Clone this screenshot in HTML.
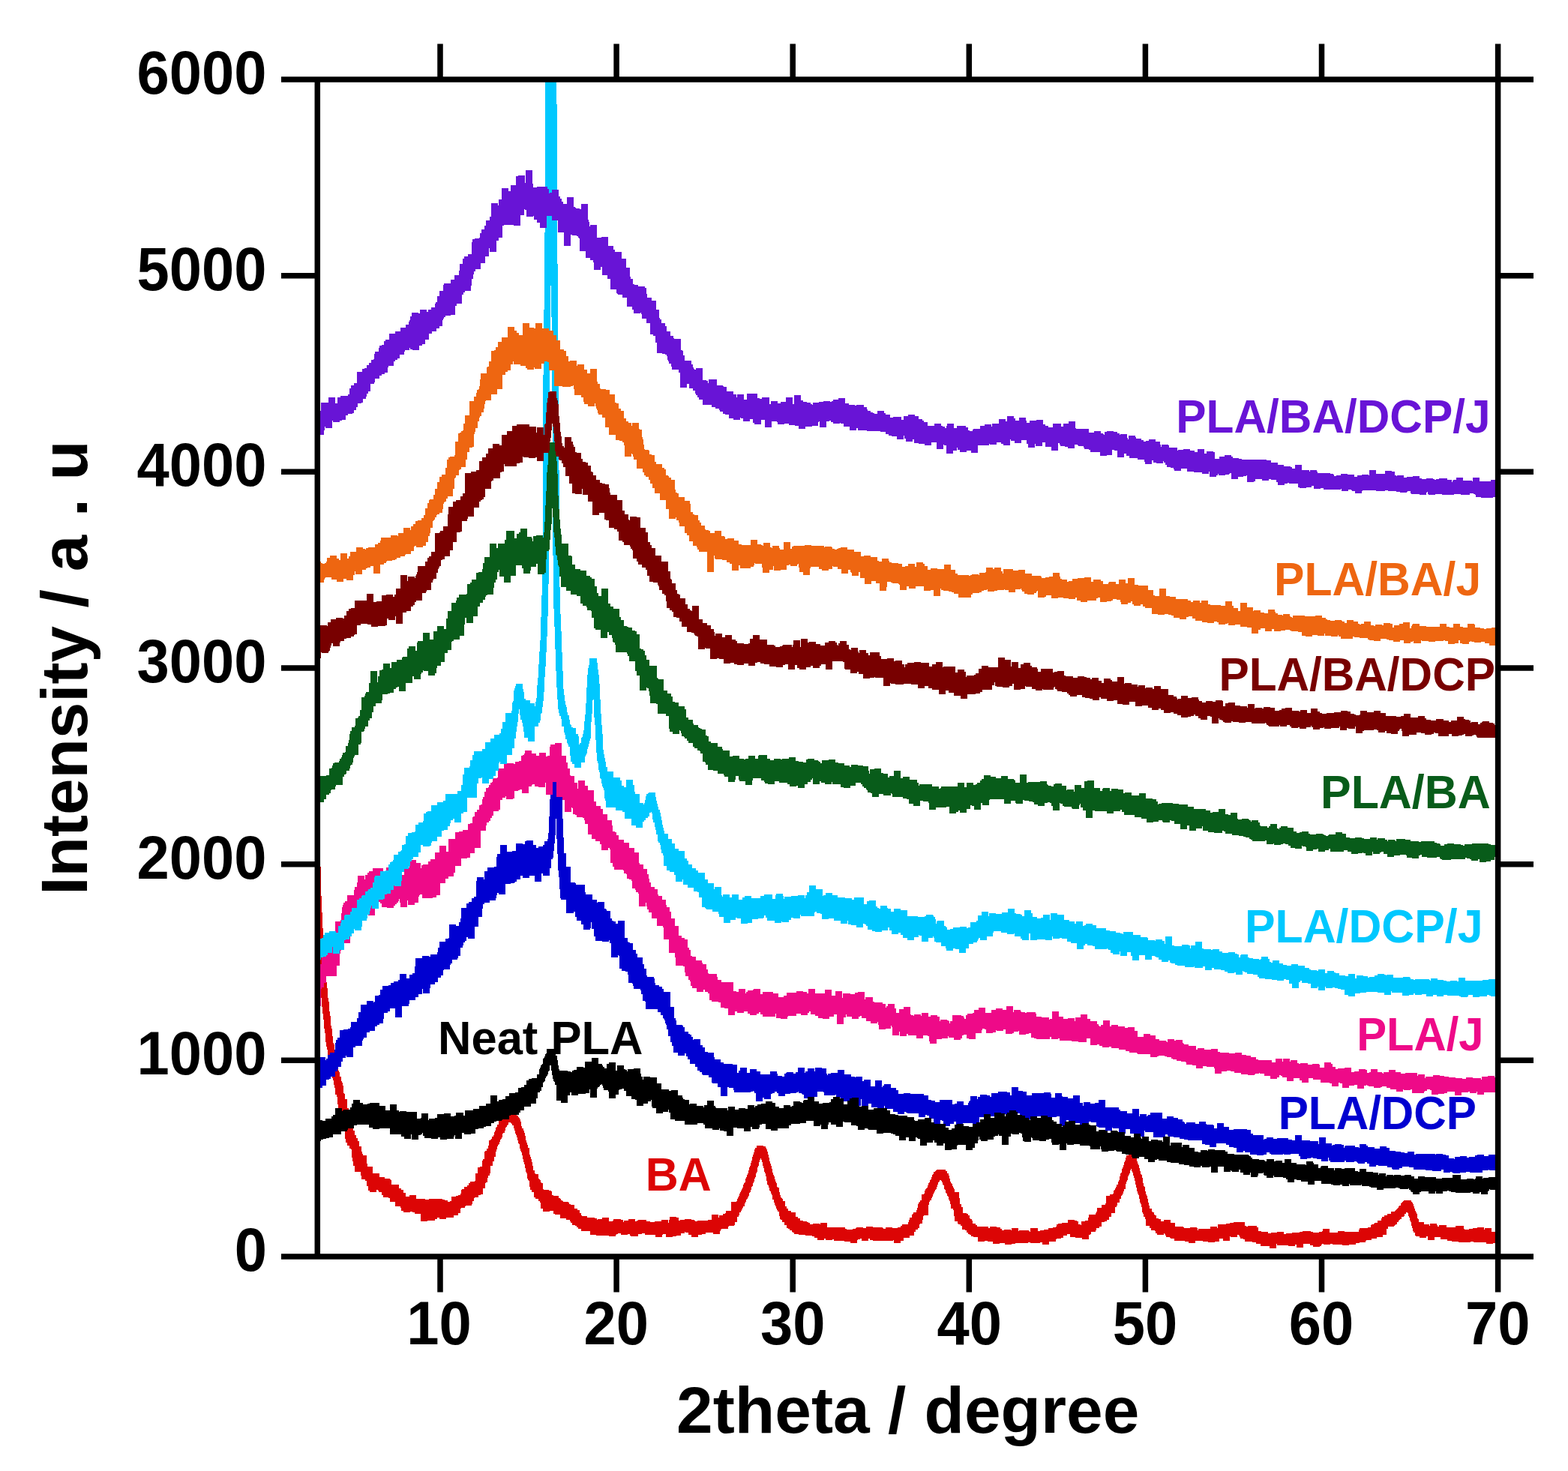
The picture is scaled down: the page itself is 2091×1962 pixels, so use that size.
<!DOCTYPE html>
<html><head><meta charset="utf-8"><title>XRD</title>
<style>html,body{margin:0;padding:0;background:#fff;width:2091px;height:1962px;overflow:hidden}svg{display:block}</style>
</head><body>
<svg width="2091" height="1962" viewBox="0 0 2091 1962">
<rect width="2091" height="1962" fill="#fff"/>
<defs><clipPath id="pc"><rect x="423" y="106" width="1574.6" height="1570"/></clipPath></defs>
<g clip-path="url(#pc)" stroke="none">
<path d="M419 1156H428V1195H429V1217H430V1238H431V1252H432V1271H433V1283H434V1296H435V1310H436V1318H437V1331H438V1336H439V1349H440V1355H441V1368H442V1372H443V1382H444V1391H445V1393H446V1401H447V1403H448V1409H449V1415H450V1418H451V1428H452V1430H453V1436H455V1442H456V1444H457V1448H458V1458H459V1459H460V1466H463V1478H465V1480H466V1483H467V1489H468V1493H470V1502H471V1508H473V1514H475V1518H477V1522H479V1529H482V1536H483V1539H484V1541H489V1552H490V1556H497V1565H506V1570H513V1572H520V1573H521V1574H522V1580H532V1585H535V1587H538V1591H541V1596H546V1594H555V1599H567V1600H572V1599H590V1600H593V1601H597V1603H600V1602H602V1596H608V1595H611V1594H614V1592H615V1587H616V1586H619V1583H623V1581H625V1578H627V1576H633V1575H634V1565H637V1557H640V1556H643V1548H644V1546H646V1536H647V1535H649V1532H651V1528H652V1521H654V1520H655V1519H656V1516H658V1514H659V1510H660V1508H661V1504H662V1503H663V1500H665V1494H667V1492H668V1491H669V1487H672V1484H674V1483H683V1484H686V1485H688V1487H689V1488H691V1490H692V1491H693V1493H694V1496H695V1502H696V1505H698V1508H699V1511H700V1515H701V1521H702V1524H703V1527H704V1531H706V1540H707V1543H708V1546H709V1550H710V1555H711V1561H713V1565H714V1566H718V1572H719V1573H720V1574H721V1577H722V1578H724V1586H725V1587H732V1588H735V1589H736V1594H738V1595H745V1598H747V1599H748V1601H750V1602H751V1603H758V1604H759V1606H761V1607H766V1612H770V1614H773V1618H775V1621H776V1622H783V1624H793V1625H796V1627H797V1626H803V1624H812V1629H817V1628H818V1626H828V1627H831V1630H832V1628H838V1626H847V1629H849V1628H851V1627H862V1629H867V1630H873V1629H882V1627H891V1631H892V1627H893V1623H902V1624H905V1628H907V1627H913V1626H922V1627H926V1628H927V1629H930V1628H944V1627H949V1620H958V1624H959V1621H964V1619H967V1618H968V1615H975V1603H982V1602H983V1599H984V1597H985V1595H986V1592H987V1590H988V1588H989V1586H990V1584H991V1580H992V1578H993V1577H994V1572H995V1570H996V1567H997V1565H998V1561H999V1557H1000V1555H1001V1551H1002V1548H1003V1543H1004V1540H1005V1537H1006V1533H1007V1531H1009V1528H1018V1529H1021V1531H1022V1533H1023V1536H1024V1540H1025V1544H1026V1549H1027V1552H1028V1555H1029V1559H1030V1564H1031V1567H1032V1569H1033V1573H1034V1576H1035V1578H1036V1583H1037V1584H1039V1590H1040V1594H1041V1597H1042V1598H1043V1599H1044V1602H1047V1609H1049V1612H1051V1615H1055V1617H1061V1623H1064V1625H1067V1628H1071V1629H1076V1630H1078V1631H1080V1633H1084V1632H1093V1633H1094V1631H1103V1637H1127V1639H1129V1640H1137V1639H1141V1638H1142V1637H1151V1638H1155V1636H1164V1637H1177V1638H1178V1639H1181V1637H1190V1638H1197V1637H1201V1635H1203V1633H1211V1630H1212V1627H1213V1624H1216V1620H1217V1619H1218V1617H1222V1614H1223V1611H1224V1606H1225V1604H1226V1603H1227V1601H1229V1593H1232V1592H1233V1588H1234V1586H1235V1585H1236V1584H1237V1581H1238V1578H1239V1577H1240V1574H1241V1573H1242V1570H1243V1567H1244V1566H1245V1563H1247V1562H1248V1561H1249V1560H1261V1562H1263V1565H1265V1568H1266V1572H1267V1576H1268V1578H1269V1579H1270V1582H1271V1584H1272V1586H1273V1590H1279V1598H1280V1606H1282V1610H1284V1618H1289V1619H1291V1621H1293V1625H1294V1626H1296V1628H1297V1632H1301V1634H1303V1636H1318V1638H1320V1636H1329V1637H1334V1639H1336V1641H1339V1640H1348V1641H1349V1638H1358V1642H1359V1641H1372V1642H1373V1643H1374V1638H1384V1642H1387V1641H1392V1640H1398V1638H1404V1637H1408V1636H1409V1633H1411V1632H1416V1631H1424V1627H1433V1628H1436V1629H1438V1633H1441V1634H1442V1629H1447V1628H1451V1624H1452V1620H1461V1618H1462V1616H1463V1611H1469V1607H1474V1605H1475V1595H1480V1593H1484V1592H1485V1588H1486V1587H1487V1585H1488V1583H1489V1580H1491V1576H1492V1574H1493V1569H1494V1565H1495V1564H1496V1559H1497V1557H1498V1554H1499V1550H1500V1548H1501V1544H1502V1541H1505V1540H1514V1543H1516V1549H1517V1552H1518V1554H1519V1558H1520V1562H1521V1566H1522V1567H1523V1571H1524V1578H1525V1582H1526V1583H1527V1589H1528V1593H1529V1595H1530V1599H1531V1604H1532V1608H1533V1612H1536V1616H1537V1617H1539V1620H1540V1621H1542V1625H1545V1626H1548V1629H1552V1627H1561V1631H1567V1636H1578V1637H1579V1638H1587V1637H1596V1638H1597V1641H1598V1639H1614V1636H1623V1638H1624V1633H1635V1632H1640V1631H1645V1630H1660V1635H1662V1636H1664V1635H1676V1637H1678V1642H1682V1643H1691V1645H1695V1644H1703V1643H1712V1646H1715V1645H1723V1644H1733V1643H1737V1642H1748V1643H1751V1644H1759V1643H1763V1642H1764V1639H1773V1644H1784V1642H1793V1643H1812V1640H1813V1638H1824V1637H1828V1634H1829V1633H1832V1632H1833V1631H1837V1628H1842V1625H1843V1623H1846V1621H1850V1619H1855V1616H1860V1615H1861V1614H1862V1613H1863V1612H1864V1611H1865V1609H1866V1608H1868V1605H1869V1604H1870V1603H1871V1602H1872V1601H1882V1603H1883V1604H1884V1606H1885V1609H1886V1612H1887V1615H1888V1617H1889V1619H1890V1625H1891V1626H1892V1630H1899V1633H1906V1635H1907V1632H1916V1634H1917V1636H1919V1634H1929V1637H1941V1635H1952V1639H1953V1640H1959V1639H1964V1638H1970V1637H1979V1640H1980V1638H1989V1643H1996V1646H1998V1658H1991V1659H1982V1657H1965V1656H1961V1657H1945V1656H1936V1655H1930V1653H1921V1650H1913V1654H1904V1649H1902V1651H1893V1649H1888V1648H1887V1644H1885V1642H1884V1638H1883V1635H1882V1630H1881V1628H1880V1624H1879V1622H1878V1618H1877V1617H1875V1619H1873V1622H1872V1623H1869V1626H1867V1627H1866V1628H1865V1630H1863V1633H1861V1634H1860V1635H1859V1636H1851V1639H1849V1647H1844V1650H1836V1652H1829V1654H1822V1655H1821V1657H1813V1658H1808V1660H1799V1661H1790V1660H1777V1659H1774V1660H1765V1659H1763V1660H1762V1662H1760V1663H1751V1661H1747V1659H1738V1664H1729V1660H1727V1662H1718V1661H1703V1659H1702V1665H1693V1662H1681V1659H1675V1657H1670V1656H1660V1653H1658V1652H1654V1650H1653V1648H1652V1647H1650V1650H1641V1649H1640V1655H1631V1652H1626V1656H1620V1657H1611V1656H1604V1655H1594V1658H1585V1656H1580V1655H1566V1652H1561V1651H1560V1650H1555V1648H1554V1646H1553V1645H1552V1647H1543V1645H1541V1642H1540V1641H1535V1638H1533V1635H1528V1626H1527V1623H1525V1619H1524V1617H1523V1610H1522V1606H1521V1604H1520V1599H1519V1594H1518V1592H1517V1589H1516V1584H1515V1580H1514V1575H1513V1571H1512V1568H1511V1564H1510V1562H1509V1559H1508V1561H1507V1565H1506V1567H1505V1569H1504V1574H1503V1576H1502V1579H1501V1586H1499V1589H1498V1592H1497V1594H1496V1595H1495V1599H1493V1604H1490V1608H1489V1610H1487V1618H1482V1623H1479V1627H1476V1629H1473V1630H1469V1636H1466V1638H1462V1641H1461V1643H1455V1646H1454V1647H1452V1653H1443V1651H1434V1650H1427V1646H1423V1648H1418V1651H1415V1652H1409V1653H1408V1656H1399V1660H1390V1657H1387V1658H1374V1657H1371V1658H1354V1659H1349V1660H1340V1658H1333V1659H1324V1656H1317V1655H1313V1656H1304V1650H1298V1649H1295V1647H1293V1646H1291V1644H1289V1641H1287V1640H1283V1635H1281V1633H1278V1632H1277V1629H1273V1622H1272V1614H1271V1612H1268V1606H1267V1602H1266V1600H1265V1596H1264V1595H1263V1592H1262V1591H1261V1587H1260V1586H1259V1581H1258V1580H1257V1577H1256V1575H1255V1574H1253V1576H1252V1577H1251V1580H1250V1583H1249V1586H1248V1587H1247V1589H1246V1591H1245V1593H1244V1596H1243V1598H1242V1601H1240V1603H1239V1607H1238V1621H1232V1622H1231V1627H1230V1632H1227V1633H1226V1638H1224V1640H1221V1643H1219V1648H1213V1651H1205V1655H1201V1658H1192V1654H1191V1655H1164V1654H1160V1652H1158V1655H1149V1652H1147V1653H1144V1654H1143V1658H1134V1656H1126V1655H1112V1653H1110V1654H1101V1652H1099V1654H1090V1651H1086V1649H1083V1648H1074V1647H1065V1646H1059V1644H1057V1643H1056V1641H1053V1639H1051V1638H1049V1634H1046V1630H1043V1627H1041V1626H1040V1622H1039V1616H1037V1614H1036V1612H1035V1609H1034V1607H1033V1604H1032V1600H1030V1594H1029V1592H1028V1589H1027V1588H1026V1584H1025V1581H1024V1580H1023V1575H1022V1569H1021V1565H1020V1563H1019V1558H1018V1555H1017V1550H1016V1547H1015V1545H1014V1547H1013V1550H1012V1555H1011V1557H1010V1563H1009V1565H1008V1570H1007V1572H1006V1576H1005V1578H1004V1582H1003V1583H1002V1587H1001V1590H1000V1591H999V1595H998V1597H997V1599H996V1600H995V1603H994V1605H993V1609H991V1611H990V1613H989V1615H988V1617H986V1621H985V1623H983V1630H980V1634H979V1635H972V1636H971V1639H962V1640H961V1642H960V1646H951V1644H941V1646H936V1647H931V1650H922V1647H918V1644H914V1643H913V1645H908V1648H902V1649H897V1650H888V1646H884V1647H883V1650H874V1647H860V1645H856V1646H851V1649H841V1648H840V1646H837V1647H828V1645H824V1646H822V1647H821V1649H812V1648H795V1647H787V1642H775V1639H771V1637H769V1635H767V1634H763V1631H761V1629H760V1627H755V1625H747V1620H740V1619H738V1615H733V1616H724V1612H721V1604H720V1602H718V1599H714V1597H712V1590H709V1587H707V1583H706V1575H705V1574H704V1572H703V1565H702V1563H701V1558H700V1553H699V1550H698V1546H697V1541H696V1537H695V1535H694V1532H693V1526H692V1525H691V1521H690V1517H689V1514H688V1512H687V1508H686V1505H685V1501H683V1499H682V1498H681V1497H678V1500H677V1501H676V1503H675V1504H674V1508H673V1511H671V1512H670V1517H669V1519H668V1520H667V1523H666V1526H665V1527H664V1529H663V1533H662V1536H661V1543H659V1549H657V1555H654V1565H653V1568H651V1571H650V1577H648V1578H647V1585H644V1593H641V1594H638V1597H633V1598H632V1602H630V1606H629V1608H621V1609H620V1611H615V1612H614V1618H611V1621H605V1624H595V1626H586V1624H583V1626H580V1628H570V1629H561V1619H553V1617H550V1616H547V1617H538V1615H535V1611H534V1609H527V1603H520V1598H518V1597H511V1594H509V1590H505V1588H504V1587H502V1590H493V1588H491V1582H489V1575H487V1573H482V1568H481V1563H473V1555H471V1549H470V1544H469V1533H468V1532H466V1528H463V1524H461V1519H460V1509H458V1504H457V1496H454V1491H453V1481H451V1473H450V1463H449V1460H447V1451H446V1447H445V1441H444V1438H443V1435H442V1428H441V1418H440V1416H439V1414H438V1407H437V1400H436V1396H435V1390H434V1378H433V1372H432V1360H431V1352H430V1343H429V1331H428V1326H427V1314H426V1298H425V1288H424V1277H423V1258H422V1239H421V1216H420V1195H419Z" fill="#dc0505"/>
<path d="M419 1430H421V1429H422V1428H423V1426H425V1410H434V1414H435V1412H437V1407H440V1404H446V1400H447V1391H448V1387H450V1384H453V1374H458V1373H464V1372H467V1370H468V1363H476V1358H478V1350H481V1340H489V1335H498V1337H499V1336H500V1328H505V1327H507V1320H510V1315H518V1314H521V1311H525V1309H531V1307H533V1299H542V1305H546V1300H550V1298H553V1289H554V1278H563V1275H572V1276H574V1273H583V1270H584V1264H586V1256H594V1252H598V1251H599V1233H608V1235H612V1230H614V1225H615V1211H622V1205H625V1203H629V1198H632V1196H635V1175H636V1170H645V1173H646V1162H650V1157H659V1156H662V1143H663V1139H667V1127H676V1136H683V1135H688V1125H697V1126H700V1122H702V1121H711V1127H715V1131H718V1129H724V1127H726V1122H730V1119H731V1111H732V1089H733V1066H734V1036H735V1010H736V1007H737V999H747V1003H748V1007H749V1062H750V1092H751V1117H752V1138H755V1156H761V1177H767V1178H768V1180H780V1190H781V1193H790V1200H796V1204H797V1203H806V1212H808V1213H809V1215H814V1225H816V1228H818V1229H821V1232H824V1228H833V1251H837V1256H838V1257H840V1258H844V1267H848V1272H850V1277H857V1286H859V1292H862V1301H863V1303H872V1305H873V1311H874V1314H879V1316H883V1319H885V1323H894V1343H899V1358H901V1361H902V1367H910V1368H911V1370H913V1376H918V1379H920V1380H922V1383H924V1387H925V1386H934V1394H937V1397H940V1403H944V1404H952V1410H953V1413H961V1417H965V1419H977V1420H983V1431H985V1428H987V1424H996V1431H1000V1426H1009V1429H1014V1433H1027V1429H1036V1432H1037V1435H1043V1436H1046V1432H1048V1431H1049V1430H1058V1432H1061V1430H1064V1424H1073V1431H1074V1429H1077V1425H1086V1429H1087V1424H1096V1425H1102V1432H1103V1434H1104V1432H1108V1431H1117V1427H1126V1433H1135V1436H1140V1437H1141V1436H1150V1442H1152V1440H1161V1449H1167V1441H1176V1450H1177V1448H1179V1446H1188V1451H1195V1454H1198V1459H1205V1458H1214V1459H1232V1461H1238V1467H1242V1468H1247V1470H1253V1467H1270V1473H1273V1472H1276V1469H1285V1474H1291V1471H1292V1469H1293V1468H1294V1462H1303V1466H1304V1463H1307V1460H1316V1461H1320V1463H1322V1458H1331V1456H1343V1457H1347V1461H1349V1450H1358V1455H1364V1456H1369V1461H1376V1458H1392V1457H1401V1459H1402V1464H1407V1458H1416V1462H1417V1463H1424V1465H1431V1461H1440V1471H1444V1475H1445V1470H1454V1472H1460V1471H1465V1467H1474V1477H1492V1480H1494V1482H1503V1485H1510V1479H1519V1489H1520V1486H1529V1489H1530V1488H1531V1487H1534V1484H1550V1492H1556V1489H1565V1491H1571V1493H1577V1496H1579V1497H1580V1499H1582V1497H1594V1499H1599V1496H1608V1499H1609V1500H1618V1501H1619V1505H1623V1498H1632V1503H1639V1507H1645V1506H1663V1507H1668V1512H1671V1514H1685V1520H1686V1519H1689V1517H1698V1519H1703V1518H1718V1520H1723V1521H1727V1514H1736V1521H1747V1522H1758V1526H1759V1517H1768V1525H1776V1528H1777V1527H1780V1526H1789V1527H1792V1531H1793V1529H1794V1528H1807V1530H1812V1531H1813V1526H1822V1528H1824V1530H1833V1532H1840V1529H1849V1531H1853V1535H1861V1536H1868V1537H1873V1538H1877V1536H1886V1540H1888V1539H1914V1540H1915V1539H1924V1540H1928V1541H1932V1545H1939V1546H1940V1543H1947V1542H1956V1544H1959V1543H1967V1541H1970V1540H1979V1542H1985V1540H1994V1544H1997V1546H1998V1559H1995V1561H1986V1560H1985V1561H1977V1564H1960V1563H1955V1564H1947V1565H1938V1564H1936V1563H1934V1564H1925V1560H1922V1562H1910V1561H1901V1560H1885V1557H1879V1556H1870V1558H1866V1560H1857V1559H1856V1557H1850V1555H1838V1554H1835V1556H1826V1552H1823V1550H1820V1552H1811V1551H1810V1550H1809V1549H1806V1550H1795V1548H1793V1550H1774V1548H1772V1544H1771V1549H1762V1546H1756V1545H1751V1544H1748V1545H1743V1546H1734V1542H1732V1539H1721V1540H1712V1539H1711V1540H1695V1539H1693V1537H1689V1540H1685V1541H1676V1540H1667V1537H1660V1535H1658V1537H1649V1531H1645V1530H1639V1527H1635V1525H1622V1530H1613V1527H1607V1526H1603V1521H1584V1520H1579V1519H1573V1517H1565V1516H1558V1515H1557V1513H1554V1517H1538V1510H1527V1508H1526V1516H1517V1515H1515V1512H1507V1506H1501V1512H1492V1505H1484V1504H1483V1508H1474V1504H1465V1503H1463V1502H1462V1497H1455V1496H1452V1502H1443V1501H1440V1498H1429V1495H1425V1494H1422V1502H1413V1489H1409V1490H1402V1491H1398V1494H1389V1489H1380V1490H1378V1493H1369V1494H1360V1485H1352V1490H1343V1488H1341V1486H1334V1488H1328V1489H1319V1487H1315V1490H1306V1499H1297V1498H1284V1502H1275V1496H1272V1499H1267V1502H1258V1495H1256V1494H1254V1503H1245V1492H1240V1491H1239V1488H1236V1487H1234V1490H1225V1485H1210V1484H1208V1483H1206V1486H1197V1483H1191V1479H1181V1478H1180V1475H1179V1478H1170V1477H1162V1472H1158V1476H1149V1466H1148V1475H1139V1470H1131V1469H1125V1465H1121V1464H1115V1460H1114V1461H1099V1457H1098V1456H1090V1463H1081V1465H1072V1460H1070V1459H1069V1458H1065V1456H1064V1457H1062V1458H1054V1459H1047V1462H1038V1458H1036V1456H1033V1458H1030V1459H1028V1466H1019V1464H1017V1469H1008V1458H1006V1456H1005V1455H1004V1456H1001V1457H979V1454H978V1451H972V1450H970V1462H961V1450H957V1445H950V1444H949V1437H945V1434H937V1433H936V1430H933V1428H930V1423H927V1419H920V1413H917V1409H915V1405H913V1408H904V1404H898V1395H896V1390H894V1382H891V1373H889V1367H888V1365H887V1361H886V1359H885V1358H884V1354H881V1350H877V1346H861V1336H860V1335H857V1326H855V1321H854V1319H845V1315H844V1312H843V1311H838V1300H837V1296H834V1295H829V1292H826V1275H825V1274H824V1277H815V1258H813V1254H812V1256H803V1255H794V1249H792V1239H789V1230H788V1238H787V1240H778V1233H775V1228H769V1223H767V1216H765V1218H755V1200H748V1198H747V1186H746V1170H745V1161H744V1139H743V1119H742V1092H741V1114H740V1125H739V1135H738V1144H737V1146H735V1158H733V1168H724V1165H722V1176H713V1168H706V1171H697V1168H694V1173H689V1176H687V1177H686V1178H681V1179H674V1193H665V1191H663V1194H662V1198H661V1201H653V1204H646V1206H644V1212H643V1223H638V1236H633V1252H624V1250H622V1255H620V1257H618V1261H617V1264H614V1275H611V1278H610V1280H603V1285H601V1287H600V1293H592V1294H591V1301H588V1304H584V1310H580V1313H574V1318H573V1325H564V1319H563V1326H558V1330H554V1334H546V1339H545V1342H536V1357H527V1345H520V1349H517V1351H512V1359H511V1365H506V1367H503V1369H500V1375H493V1377H489V1384H485V1386H484V1388H483V1395H474V1397H471V1410H462V1408H461V1411H457V1416H455V1423H451V1426H450V1429H447V1436H441V1439H439V1440H435V1448H430V1451H421V1448H420V1443H419Z" fill="#0000d0"/>
<path d="M419 1494H430V1495H434V1492H442V1489H444V1487H447V1478H456V1482H457V1481H458V1480H467V1477H469V1472H471V1467H480V1471H484V1473H490V1472H493V1471H506V1475H514V1481H520V1473H529V1481H532V1483H533V1482H542V1483H556V1492H561V1491H562V1485H571V1494H572V1492H580V1491H583V1486H592V1485H601V1489H606V1488H608V1484H618V1488H620V1481H631V1479H639V1475H648V1472H654V1461H663V1469H665V1467H670V1466H674V1462H679V1458H687V1457H691V1451H695V1450H699V1447H702V1441H705V1439H709V1438H716V1433H719V1426H720V1424H721V1421H722V1420H723V1419H724V1412H725V1411H726V1409H727V1406H728V1405H729V1399H739V1401H740V1402H741V1408H743V1414H744V1421H745V1426H746V1428H757V1429H761V1430H763V1428H765V1427H769V1423H778V1424H780V1416H789V1411H798V1419H803V1421H804V1423H806V1425H809V1419H812V1417H821V1428H823V1421H832V1426H834V1427H836V1429H837V1426H845V1425H854V1432H855V1436H857V1440H858V1436H867V1437H876V1445H882V1453H892V1455H895V1454H904V1461H910V1464H911V1466H913V1467H919V1473H920V1472H929V1475H938V1477H939V1474H943V1468H952V1475H954V1477H955V1478H970V1481H971V1476H980V1480H985V1478H994V1479H997V1474H1006V1477H1007V1475H1010V1473H1015V1472H1021V1469H1030V1471H1034V1476H1039V1478H1045V1474H1054V1476H1056V1475H1058V1469H1067V1470H1069V1471H1071V1468H1072V1467H1077V1463H1086V1469H1092V1472H1097V1471H1106V1470H1108V1466H1111V1463H1120V1465H1125V1473H1130V1468H1133V1465H1136V1464H1145V1475H1146V1476H1149V1475H1158V1480H1165V1478H1183V1481H1187V1486H1194V1487H1198V1488H1210V1490H1219V1494H1220V1495H1224V1493H1233V1491H1242V1497H1246V1499H1261V1504H1265V1507H1269V1505H1273V1500H1276V1499H1285V1502H1292V1503H1297V1499H1302V1497H1307V1493H1312V1486H1321V1491H1326V1484H1335V1485H1340V1489H1341V1486H1343V1484H1346V1481H1355V1483H1357V1487H1363V1488H1367V1491H1372V1493H1373V1494H1374V1489H1383V1491H1388V1488H1397V1490H1403V1494H1405V1496H1409V1499H1416V1503H1417V1501H1420V1496H1425V1495H1434V1500H1443V1498H1452V1500H1454V1501H1462V1509H1465V1507H1474V1508H1477V1511H1481V1508H1490V1509H1491V1510H1500V1515H1508V1517H1512V1512H1521V1517H1522V1519H1523V1516H1532V1522H1535V1520H1544V1521H1550V1523H1551V1516H1560V1528H1561V1524H1576V1530H1577V1527H1586V1531H1593V1536H1598V1537H1601V1534H1610V1535H1611V1533H1620V1534H1634V1536H1637V1539H1646V1540H1665V1541H1666V1542H1668V1544H1670V1546H1679V1547H1686V1548H1687V1549H1689V1546H1699V1549H1701V1548H1710V1551H1713V1546H1722V1551H1729V1553H1741V1554H1742V1549H1751V1551H1752V1553H1758V1558H1761V1556H1762V1555H1771V1558H1779V1561H1780V1558H1789V1559H1793V1558H1807V1562H1811V1563H1813V1559H1822V1563H1831V1564H1838V1567H1839V1565H1848V1569H1849V1567H1858V1568H1859V1567H1868V1568H1873V1567H1882V1569H1886V1572H1891V1569H1900V1570H1915V1572H1923V1571H1937V1567H1948V1573H1956V1572H1965V1573H1967V1572H1968V1569H1977V1572H1978V1571H1985V1570H1994V1571H1995V1572H1998V1581H1997V1583H1996V1587H1987V1586H1986V1588H1985V1589H1984V1593H1975V1590H1973V1592H1964V1590H1961V1591H1941V1590H1935V1589H1932V1588H1930V1589H1924V1592H1915V1589H1914V1592H1905V1589H1895V1590H1893V1593H1884V1590H1882V1589H1881V1587H1879V1585H1878V1586H1867V1585H1865V1584H1861V1585H1845V1587H1836V1584H1828V1583H1826V1582H1816V1580H1815V1581H1800V1579H1799V1582H1790V1580H1787V1581H1778V1580H1775V1579H1762V1575H1753V1580H1744V1576H1735V1574H1729V1573H1726V1577H1717V1573H1715V1571H1711V1570H1699V1568H1698V1571H1689V1568H1686V1567H1685V1564H1684V1565H1678V1568H1677V1570H1668V1564H1667V1567H1658V1564H1654V1560H1652V1563H1643V1562H1642V1561H1641V1563H1632V1556H1624V1564H1615V1556H1613V1557H1603V1555H1601V1557H1592V1556H1586V1554H1579V1553H1572V1551H1561V1550H1556V1548H1545V1546H1543V1547H1540V1550H1531V1546H1526V1543H1519V1545H1510V1543H1509V1540H1501V1539H1496V1536H1489V1535H1488V1534H1486V1535H1478V1536H1469V1533H1468V1529H1467V1533H1454V1529H1453V1528H1440V1526H1432V1527H1423V1525H1422V1534H1413V1526H1412V1527H1403V1524H1402V1519H1399V1520H1395V1522H1386V1521H1377V1518H1376V1517H1375V1523H1366V1522H1364V1517H1363V1512H1361V1511H1359V1513H1350V1512H1348V1516H1345V1527H1336V1515H1332V1513H1331V1515H1327V1516H1325V1520H1317V1522H1308V1520H1306V1516H1305V1521H1304V1525H1300V1531H1297V1534H1288V1527H1277V1528H1276V1533H1269V1534H1260V1525H1258V1528H1249V1524H1246V1521H1244V1524H1236V1528H1227V1519H1224V1518H1223V1517H1221V1522H1212V1517H1208V1521H1199V1515H1194V1513H1191V1512H1188V1511H1178V1512H1169V1507H1158V1506H1157V1505H1153V1507H1144V1502H1142V1501H1135V1497H1126V1496H1124V1503H1115V1500H1108V1497H1105V1500H1104V1506H1095V1500H1094V1502H1085V1495H1075V1498H1067V1499H1055V1501H1052V1505H1037V1508H1028V1506H1021V1499H1016V1500H1013V1504H1012V1506H1003V1503H1001V1509H992V1505H983V1504H978V1515H969V1509H965V1508H960V1505H959V1507H950V1505H940V1500H938V1498H930V1500H913V1495H900V1493H894V1484H892V1480H891V1483H884V1485H875V1478H870V1476H869V1467H868V1469H864V1472H858V1475H849V1467H847V1466H842V1462H835V1455H832V1452H829V1453H826V1454H825V1460H821V1465H812V1456H811V1454H805V1451H804V1448H803V1446H802V1447H800V1449H799V1450H797V1452H796V1464H787V1453H786V1458H781V1459H771V1461H762V1457H760V1461H757V1471H748V1468H742V1447H740V1443H739V1442H738V1439H737V1434H736V1428H735V1421H733V1428H732V1429H731V1433H730V1435H729V1436H728V1438H727V1442H726V1443H725V1444H724V1450H722V1455H720V1457H717V1465H715V1472H708V1476H699V1481H694V1484H692V1487H681V1488H679V1493H670V1494H669V1495H662V1496H659V1498H655V1502H648V1503H645V1505H638V1506H634V1512H628V1513H619V1511H616V1519H607V1514H606V1516H605V1519H596V1520H587V1517H584V1519H575V1518H566V1515H564V1511H563V1513H561V1514H558V1520H549V1513H548V1519H539V1516H535V1513H520V1505H506V1506H497V1504H492V1500H476V1501H472V1505H464V1507H463V1509H455V1513H444V1517H439V1518H435V1519H431V1520H428V1522H419Z" fill="#000000"/>
<path d="M419 1307H421V1294H426V1289H427V1286H429V1273H433V1270H441V1250H446V1247H447V1229H454V1227H455V1218H456V1210H457V1207H458V1204H460V1202H463V1194H472V1187H473V1183H476V1177H477V1168H486V1173H487V1167H490V1164H492V1162H497V1158H511V1171H515V1157H524V1158H526V1171H527V1167H539V1157H546V1147H555V1151H561V1158H562V1154H564V1153H571V1149H574V1146H580V1137H586V1128H595V1136H598V1119H607V1110H612V1109H617V1107H624V1099H627V1098H630V1090H631V1089H633V1083H636V1080H639V1074H641V1073H643V1066H644V1063H646V1056H648V1051H651V1050H652V1047H654V1044H656V1043H657V1038H663V1037H664V1025H672V1018H685V1019H687V1016H692V1015H695V1008H697V1007H699V1005H700V1001H709V1005H715V1008H719V1004H728V1009H730V1008H733V996H734V993H740V991H749V1008H755V1017H757V1025H760V1034H761V1035H766V1044H770V1052H771V1041H780V1048H784V1054H792V1069H795V1075H801V1079H804V1086H810V1094H816V1101H817V1109H820V1110H822V1114H825V1120H832V1124H839V1131H846V1137H852V1151H853V1153H858V1159H863V1166H865V1172H866V1177H868V1183H873V1186H877V1193H878V1195H883V1200H888V1207H889V1210H893V1216H895V1225H900V1235H905V1248H909V1251H913V1253H917V1264H919V1267H921V1275H923V1276H928V1281H936V1284H937V1286H942V1293H944V1298H945V1299H956V1303H957V1307H962V1310H978V1322H982V1323H985V1319H994V1325H995V1323H997V1321H1004V1320H1005V1319H1014V1326H1017V1323H1031V1325H1038V1330H1045V1328H1049V1324H1062V1322H1071V1323H1076V1325H1078V1319H1087V1325H1100V1320H1109V1328H1114V1322H1123V1331H1124V1325H1134V1326H1140V1324H1144V1323H1153V1333H1154V1330H1164V1336H1166V1337H1177V1339H1181V1344H1182V1342H1184V1339H1193V1345H1195V1351H1199V1346H1205V1343H1214V1353H1215V1354H1218V1355H1219V1353H1228V1355H1229V1351H1238V1356H1241V1354H1250V1356H1253V1362H1254V1360H1263V1361H1265V1362H1266V1365H1267V1362H1270V1354H1282V1355H1285V1357H1286V1359H1288V1354H1290V1352H1297V1351H1299V1347H1305V1344H1314V1351H1322V1347H1328V1345H1337V1347H1342V1342H1351V1350H1352V1347H1361V1349H1362V1350H1367V1351H1369V1350H1381V1352H1382V1356H1389V1357H1399V1360H1400V1359H1403V1349H1412V1356H1418V1359H1424V1358H1433V1362H1434V1357H1441V1353H1450V1359H1454V1362H1463V1366H1465V1368H1466V1369H1468V1367H1471V1361H1480V1369H1482V1367H1491V1369H1500V1371H1504V1370H1513V1375H1517V1383H1525V1379H1534V1381H1541V1386H1546V1388H1555V1389H1556V1390H1557V1386H1566V1388H1568V1387H1577V1391H1578V1392H1579V1393H1585V1395H1595V1400H1597V1398H1606V1400H1615V1399H1624V1403H1627V1404H1639V1405H1647V1404H1656V1407H1662V1408H1668V1410H1675V1413H1678V1414H1696V1417H1701V1412H1710V1416H1711V1412H1720V1416H1721V1414H1730V1418H1732V1419H1734V1418H1744V1420H1750V1419H1759V1420H1760V1424H1766V1417H1775V1419H1777V1423H1781V1426H1784V1425H1793V1424H1802V1430H1806V1429H1812V1426H1821V1427H1823V1431H1826V1430H1828V1426H1837V1430H1843V1431H1844V1432H1845V1430H1852V1427H1861V1430H1868V1432H1874V1431H1890V1435H1891V1433H1900V1438H1901V1436H1911V1434H1920V1435H1926V1436H1932V1437H1941V1438H1950V1439H1955V1437H1964V1438H1975V1440H1976V1436H1984V1435H1993V1437H1994V1442H1995V1443H1997V1444H1998V1455H1994V1457H1979V1460H1970V1456H1969V1458H1960V1456H1958V1457H1949V1461H1940V1456H1930V1458H1926V1459H1918V1460H1909V1454H1907V1453H1903V1455H1900V1456H1899V1458H1883V1453H1881V1454H1872V1453H1871V1456H1862V1453H1854V1451H1849V1449H1843V1450H1841V1451H1832V1449H1825V1448H1823V1447H1822V1448H1819V1452H1810V1447H1806V1448H1799V1451H1790V1445H1787V1444H1785V1449H1776V1445H1773V1444H1761V1440H1751V1438H1745V1444H1736V1441H1733V1438H1725V1442H1716V1437H1710V1435H1708V1434H1706V1437H1703V1439H1694V1435H1686V1432H1680V1431H1679V1432H1674V1433H1673V1434H1664V1433H1655V1431H1646V1429H1641V1428H1636V1429H1629V1432H1620V1425H1619V1423H1609V1422H1604V1425H1595V1421H1590V1420H1582V1417H1581V1416H1575V1415H1569V1413H1564V1412H1562V1410H1556V1409H1553V1408H1545V1409H1543V1410H1534V1406H1517V1405H1516V1404H1506V1402H1501V1400H1492V1398H1482V1396H1479V1397H1470V1395H1466V1393H1463V1394H1454V1385H1449V1390H1438V1389H1429V1388H1413V1385H1411V1386H1402V1383H1400V1386H1382V1385H1379V1384H1375V1378H1372V1379H1368V1380H1359V1375H1358V1376H1352V1378H1350V1379H1341V1373H1338V1375H1329V1374H1328V1377H1324V1378H1315V1373H1313V1372H1310V1374H1309V1378H1301V1386H1292V1385H1289V1380H1285V1381H1283V1385H1281V1387H1272V1384H1265V1382H1264V1385H1256V1386H1249V1392H1240V1389H1239V1382H1237V1381H1231V1385H1222V1381H1211V1379H1209V1382H1200V1376H1199V1381H1190V1370H1189V1368H1188V1372H1181V1373H1172V1367H1171V1363H1170V1365H1161V1362H1155V1358H1149V1355H1147V1356H1145V1359H1136V1356H1129V1353H1128V1357H1125V1366H1116V1353H1112V1356H1106V1359H1097V1358H1091V1355H1087V1353H1081V1349H1079V1351H1077V1354H1068V1352H1062V1355H1051V1356H1050V1359H1041V1358H1035V1352H1034V1356H1017V1353H1014V1350H1012V1352H1009V1354H1000V1352H997V1349H992V1351H983V1349H980V1354H971V1345H966V1344H961V1337H958V1336H949V1334H946V1325H944V1323H940V1320H938V1323H929V1318H923V1315H921V1309H920V1307H918V1302H914V1297H913V1289H911V1288H901V1277H900V1271H892V1253H885V1237H884V1235H876V1225H869V1217H865V1213H863V1209H862V1204H861V1209H852V1192H851V1190H848V1187H847V1185H843V1175H842V1173H839V1172H836V1166H835V1165H832V1161H831V1160H819V1156H817V1151H814V1133H813V1131H811V1134H802V1126H800V1122H794V1119H789V1113H784V1099H780V1094H779V1091H777V1090H769V1087H767V1086H764V1078H763V1077H762V1083H753V1067H750V1063H742V1043H737V1060H728V1044H727V1050H718V1049H713V1046H710V1047H709V1049H705V1058H696V1053H693V1054H691V1055H686V1065H684V1066H675V1062H674V1064H670V1067H667V1080H665V1082H658V1088H656V1091H654V1095H652V1097H649V1101H648V1108H641V1131H633V1138H627V1144H623V1145H615V1155H607V1164H605V1169H598V1172H594V1178H587V1194H582V1197H577V1198H563V1193H560V1194H559V1196H558V1204H553V1207H544V1201H543V1210H534V1204H533V1199H532V1202H531V1204H529V1206H527V1208H525V1211H516V1210H509V1205H507V1203H503V1200H500V1221H491V1208H490V1211H484V1213H483V1226H480V1229H475V1230H474V1233H471V1237H467V1258H458V1253H457V1263H455V1268H454V1272H453V1288H449V1302H435V1311H432V1317H429V1319H428V1342H419Z" fill="#ee0a88"/>
<path d="M419 1255H426V1252H429V1251H431V1247H433V1244H439V1242H448V1244H451V1235H454V1231H455V1227H459V1221H460V1220H467V1216H469V1211H476V1200H479V1198H482V1195H483V1194H487V1189H490V1188H491V1186H494V1184H497V1177H499V1170H500V1168H507V1162H514V1161H518V1153H520V1150H522V1149H524V1147H525V1140H531V1136H534V1135H535V1134H536V1127H539V1126H541V1115H544V1111H549V1110H553V1109H554V1100H558V1097H564V1095H565V1085H568V1083H570V1082H575V1074H583V1070H591V1068H594V1059H610V1055H615V1047H617V1033H619V1024H626V1022H627V1014H630V1007H632V1002H643V999H647V990H654V985H659V980H666V978H668V972H670V963H674V951H682V948H683V937H684V935H685V921H686V918H687V915H688V912H697V919H698V923H699V932H701V934H707V938H713V942H714V936H715V931H716V914H717V904H718V886H719V869H720V854H721V823H722V794H723V720H724V500H725V413H726V310H727V101H728V84H730V83H732V82H741V83H742V139H743V352H744V482H745V627H746V783H747V819H748V842H749V870H750V895H751V919H752V927H753V935H754V940H755V943H756V950H757V954H759V960H760V966H761V967H762V970H764V971H768V979H771V982H772V993H773V991H775V984H776V983H777V979H778V974H779V962H780V953H781V938H782V917H783V900H784V891H785V887H786V878H796V884H797V893H798V900H799V912H800V933H801V952H802V967H803V979H804V1000H805V1006H806V1011H807V1016H808V1023H810V1029H818V1037H827V1041H829V1048H832V1050H835V1040H844V1047H846V1056H847V1059H853V1071H858V1073H859V1071H860V1067H861V1062H862V1059H864V1058H865V1057H874V1063H875V1068H876V1072H877V1076H878V1080H880V1084H881V1089H882V1094H883V1100H884V1104H885V1108H886V1112H891V1119H896V1125H900V1132H905V1135H913V1145H916V1148H918V1153H923V1158H928V1161H931V1164H940V1173H944V1178H952V1186H953V1183H962V1194H963V1196H964V1193H973V1197H976V1193H985V1200H990V1197H993V1195H1002V1198H1014V1195H1019V1193H1030V1199H1034V1194H1035V1192H1044V1195H1045V1199H1046V1196H1055V1195H1064V1194H1073V1198H1074V1194H1076V1190H1079V1181H1088V1186H1097V1195H1098V1194H1101V1191H1110V1194H1117V1197H1127V1198H1136V1200H1139V1197H1152V1206H1156V1202H1159V1201H1168V1209H1170V1211H1172V1212H1174V1208H1183V1211H1184V1212H1188V1216H1192V1212H1201V1214H1210V1222H1224V1223H1233V1222H1235V1220H1244V1221H1245V1223H1247V1226H1248V1232H1249V1229H1250V1228H1259V1235H1261V1236H1262V1237H1263V1240H1267V1239H1271V1237H1280V1236H1289V1238H1291V1237H1294V1230H1302V1228H1304V1221H1309V1216H1318V1222H1319V1218H1328V1219H1336V1217H1344V1212H1353V1218H1355V1219H1361V1220H1363V1222H1366V1214H1375V1218H1377V1223H1383V1225H1388V1224H1391V1220H1400V1227H1401V1218H1410V1220H1419V1227H1426V1229H1433V1232H1435V1229H1444V1235H1446V1234H1448V1232H1457V1234H1462V1238H1475V1241H1480V1242H1488V1244H1494V1245H1497V1246H1498V1243H1511V1247H1521V1250H1530V1251H1531V1254H1540V1255H1541V1253H1550V1255H1553V1259H1554V1249H1563V1261H1566V1262H1576V1260H1585V1261H1587V1265H1588V1261H1594V1256H1603V1265H1605V1266H1615V1267H1617V1266H1626V1269H1630V1271H1638V1270H1647V1272H1650V1273H1652V1277H1654V1274H1655V1273H1664V1277H1666V1278H1671V1279H1679V1280H1681V1279H1682V1276H1691V1279H1693V1283H1695V1284H1697V1281H1706V1285H1711V1287H1716V1288H1722V1286H1731V1288H1740V1291H1746V1293H1748V1294H1756V1295H1758V1293H1767V1298H1770V1295H1779V1297H1781V1298H1786V1301H1794V1302H1798V1299H1807V1305H1809V1301H1818V1302H1824V1304H1826V1303H1833V1301H1837V1299H1846V1300H1848V1301H1849V1300H1858V1304H1871V1303H1880V1304H1881V1306H1885V1307H1887V1306H1906V1307H1907V1308H1908V1305H1917V1307H1925V1308H1929V1309H1934V1308H1943V1309H1945V1304H1954V1308H1977V1307H1985V1306H1994V1308H1996V1313H1998V1324H1997V1329H1988V1328H1986V1327H1983V1329H1973V1330H1964V1327H1958V1329H1957V1330H1948V1329H1946V1328H1930V1327H1925V1329H1916V1327H1911V1329H1902V1326H1896V1327H1887V1325H1885V1327H1879V1328H1870V1324H1856V1322H1855V1327H1846V1324H1837V1323H1822V1324H1814V1325H1807V1329H1798V1327H1793V1320H1788V1319H1784V1318H1780V1317H1777V1318H1768V1316H1767V1321H1758V1316H1757V1318H1748V1312H1744V1311H1736V1308H1734V1310H1732V1318H1723V1312H1719V1307H1715V1306H1712V1308H1703V1307H1696V1306H1687V1305H1679V1303H1677V1300H1671V1299H1663V1297H1660V1296H1658V1295H1657V1300H1648V1297H1646V1298H1637V1296H1633V1294H1628V1293H1619V1291H1616V1294H1607V1289H1604V1291H1593V1289H1592V1290H1580V1288H1570V1287H1567V1285H1562V1284H1560V1281H1558V1283H1549V1280H1545V1277H1542V1276H1540V1275H1536V1280H1527V1274H1519V1281H1510V1275H1508V1270H1503V1275H1494V1269H1493V1273H1484V1271H1481V1267H1478V1266H1477V1265H1476V1266H1460V1262H1457V1261H1450V1259H1447V1261H1445V1266H1436V1258H1428V1256H1423V1252H1416V1251H1413V1252H1404V1249H1403V1254H1394V1253H1383V1254H1374V1245H1372V1254H1363V1252H1361V1249H1353V1245H1352V1246H1343V1244H1335V1242H1325V1244H1324V1249H1316V1254H1307V1251H1305V1253H1304V1255H1303V1257H1298V1259H1292V1265H1288V1271H1279V1266H1274V1265H1271V1268H1262V1265H1261V1262H1255V1257H1248V1256H1246V1251H1245V1249H1244V1251H1238V1256H1229V1248H1226V1247H1225V1250H1219V1254H1210V1251H1204V1247H1201V1244H1198V1246H1189V1241H1186V1237H1184V1241H1176V1243H1167V1242H1163V1240H1157V1235H1155V1233H1153V1232H1151V1237H1142V1234H1135V1233H1131V1228H1130V1232H1121V1228H1112V1225H1105V1226H1096V1219H1094V1218H1089V1216H1087V1217H1086V1222H1068V1220H1067V1225H1058V1224H1055V1227H1052V1230H1043V1229H1042V1231H1033V1228H1023V1224H1021V1221H1019V1224H1018V1225H1011V1226H1003V1231H997V1232H988V1225H983V1224H981V1227H974V1231H965V1223H959V1219H958V1216H950V1213H942V1212H941V1211H940V1210H936V1197H932V1190H930V1189H925V1184H917V1180H911V1173H910V1176H901V1167H899V1163H893V1161H889V1155H885V1141H884V1138H882V1133H881V1127H880V1124H878V1122H877V1113H875V1107H874V1103H873V1097H871V1093H870V1085H869V1083H868V1084H866V1089H864V1091H861V1094H859V1096H857V1104H848V1101H842V1092H833V1083H830V1081H821V1077H808V1068H807V1065H806V1054H805V1051H804V1049H803V1045H802V1039H801V1038H800V1030H799V1027H798V1018H797V1015H796V1004H795V987H794V967H793V957H792V933H791V934H790V952H789V963H788V985H787V988H786V992H785V996H784V999H783V1005H782V1007H781V1009H780V1017H775V1024H766V1019H763V1016H761V1008H760V996H758V993H757V991H756V986H754V980H753V977H752V969H749V959H748V955H746V951H745V946H744V933H743V917H742V895H741V866H740V836H739V812H738V741H737V560H736V423H735V381H734V459H733V651H732V779H731V822H730V849H729V870H728V889H727V903H726V923H725V935H724V943H723V951H722V952H721V961H720V964H718V969H713V989H704V984H699V976H698V969H697V964H696V960H694V954H693V946H692V952H691V963H690V969H689V976H688V985H686V998H683V1007H676V1019H667V1016H666V1018H665V1028H661V1035H658V1039H652V1045H643V1037H642V1038H638V1045H636V1064H623V1083H618V1085H615V1097H606V1092H604V1094H601V1098H600V1102H597V1107H592V1108H589V1116H583V1122H576V1124H575V1128H573V1129H564V1127H561V1137H558V1143H551V1146H549V1149H547V1155H546V1156H545V1159H539V1163H536V1175H535V1182H526V1181H525V1187H521V1192H516V1193H513V1199H511V1200H505V1212H496V1208H495V1211H494V1215H493V1220H490V1225H489V1228H483V1236H482V1241H473V1239H472V1245H469V1249H466V1253H461V1254H459V1267H453V1272H444V1263H443V1271H437V1274H435V1276H431V1277H428V1280H419Z" fill="#00c8ff"/>
<path d="M419 1044H420V1043H423V1038H426V1035H435V1034H439V1025H442V1024H443V1021H444V1018H446V1017H452V1015H453V1012H455V1010H456V1007H457V1004H460V1003H461V995H464V991H465V987H466V979H467V975H469V970H473V968H474V958H477V957H478V955H480V947H482V930H486V928H487V925H488V923H492V911H494V895H503V910H504V902H506V894H509V893H511V885H520V891H522V883H529V880H536V877H537V876H543V865H545V862H554V868H556V857H557V855H564V844H573V853H578V842H583V835H592V839H595V825H597V815H602V804H608V801H609V797H612V793H622V792H623V779H627V777H629V773H635V764H638V763H643V759H644V751H646V743H653V725H662V731H664V725H673V720H675V708H686V718H689V712H692V710H694V705H703V716H709V718H710V722H711V715H715V714H724V717H725V710H726V696H727V674H728V655H729V630H730V620H731V604H732V590H741V602H742V615H743V632H744V661H745V679H746V693H747V705H748V713H749V725H758V741H762V742H763V753H767V759H774V761H782V768H787V770H789V772H793V782H796V791H798V795H802V785H811V805H814V809H818V812H826V823H828V827H832V835H836V836H838V837H843V841H847V842H849V846H853V865H855V866H858V868H860V874H862V880H866V888H876V904H877V905H878V906H885V921H890V925H895V929H897V936H900V937H905V942H913V946H915V957H918V960H924V965H925V967H931V970H932V971H934V972H936V973H941V981H943V982H945V989H948V991H957V996H963V999H964V1001H973V1009H977V1008H986V1012H992V1013H994V1012H998V1008H1007V1012H1011V1008H1012V1007H1023V1012H1027V1014H1032V1012H1041V1013H1043V1012H1052V1010H1061V1015H1065V1016H1071V1017H1075V1013H1077V1012H1086V1014H1091V1015H1092V1016H1094V1018H1096V1014H1105V1013H1114V1017H1118V1018H1126V1021H1133V1023H1135V1020H1144V1021H1151V1022H1158V1028H1159V1032H1160V1026H1166V1025H1175V1031H1178V1032H1184V1037H1186V1035H1192V1028H1201V1038H1204V1036H1213V1040H1223V1044H1225V1048H1226V1046H1243V1049H1252V1052H1254V1051H1255V1049H1277V1044H1286V1050H1289V1044H1298V1047H1301V1046H1303V1044H1307V1041H1309V1039H1312V1034H1321V1036H1328V1038H1335V1035H1344V1039H1352V1040H1353V1041H1354V1044H1360V1033H1369V1044H1371V1043H1387V1042H1396V1046H1397V1047H1398V1048H1402V1049H1405V1046H1407V1045H1416V1048H1422V1054H1423V1053H1432V1056H1433V1047H1442V1051H1446V1042H1450V1041H1459V1051H1467V1055H1470V1052H1471V1051H1480V1055H1482V1052H1491V1053H1498V1058H1500V1057H1509V1061H1519V1058H1528V1065H1537V1066H1542V1069H1544V1073H1545V1072H1549V1071H1564V1072H1572V1073H1584V1076H1592V1079H1608V1081H1614V1084H1617V1083H1625V1079H1634V1086H1638V1087H1641V1084H1650V1092H1651V1093H1656V1092H1665V1093H1666V1094H1668V1096H1669V1094H1678V1097H1680V1101H1681V1102H1690V1104H1692V1102H1694V1099H1703V1105H1705V1106H1706V1104H1708V1102H1717V1104H1725V1109H1729V1111H1733V1110H1736V1109H1745V1112H1747V1113H1755V1112H1764V1113H1766V1114H1768V1115H1771V1114H1772V1113H1781V1110H1790V1112H1795V1117H1800V1118H1807V1117H1816V1118H1819V1119H1827V1117H1836V1120H1837V1118H1847V1120H1850V1122H1851V1120H1860V1121H1861V1122H1862V1119H1874V1120H1881V1122H1892V1123H1895V1122H1913V1124H1916V1125H1920V1126H1921V1128H1926V1126H1930V1125H1939V1126H1948V1127H1951V1128H1953V1126H1963V1125H1985V1126H1988V1127H1997V1132H1998V1142H1997V1143H1993V1147H1988V1149H1982V1150H1973V1146H1971V1148H1962V1146H1960V1145H1956V1144H1954V1146H1935V1147H1923V1146H1921V1145H1920V1143H1916V1144H1903V1143H1896V1140H1894V1141H1892V1145H1883V1144H1876V1141H1875V1140H1867V1141H1859V1143H1850V1139H1845V1136H1842V1137H1840V1139H1831V1136H1830V1141H1821V1138H1818V1137H1817V1138H1811V1139H1802V1136H1797V1134H1792V1136H1774V1132H1772V1134H1767V1136H1758V1132H1756V1133H1751V1135H1742V1130H1741V1129H1737V1128H1736V1132H1727V1131H1721V1128H1718V1126H1714V1125H1711V1126H1708V1127H1699V1125H1698V1126H1689V1121H1687V1122H1670V1120H1668V1119H1666V1117H1661V1116H1658V1115H1652V1114H1643V1112H1634V1109H1632V1108H1630V1111H1619V1110H1611V1108H1604V1102H1603V1105H1595V1108H1586V1101H1583V1106H1574V1099H1566V1095H1562V1094H1560V1097H1551V1096H1550V1094H1545V1096H1538V1097H1529V1092H1522V1090H1513V1087H1499V1083H1496V1080H1494V1082H1485V1085H1476V1082H1460V1081H1457V1091H1448V1081H1444V1077H1441V1072H1440V1074H1439V1079H1430V1078H1429V1076H1419V1075H1417V1072H1414V1071H1413V1081H1404V1075H1402V1071H1400V1070H1397V1071H1393V1075H1384V1073H1379V1070H1377V1069H1372V1068H1366V1067H1364V1072H1355V1071H1354V1068H1348V1072H1339V1066H1320V1067H1319V1074H1310V1071H1308V1080H1299V1075H1296V1074H1294V1079H1289V1084H1280V1081H1278V1083H1275V1085H1266V1076H1262V1077H1248V1080H1239V1071H1238V1069H1231V1068H1227V1075H1218V1072H1212V1066H1209V1065H1204V1063H1190V1059H1189V1058H1188V1061H1178V1059H1172V1063H1163V1058H1161V1057H1157V1054H1156V1053H1155V1051H1152V1049H1150V1046H1148V1044H1141V1048H1134V1051H1125V1050H1121V1046H1110V1043H1109V1046H1100V1044H1095V1042H1093V1046H1084V1038H1083V1040H1081V1043H1077V1046H1073V1051H1064V1048H1062V1049H1053V1046H1050V1044H1039V1042H1033V1046H1024V1045H1020V1043H1019V1041H1015V1038H1004V1041H1003V1047H994V1042H986V1040H985V1035H981V1040H980V1043H971V1036H966V1034H965V1032H957V1028H951V1027H944V1020H941V1017H940V1016H937V1005H934V1002H933V1001H930V998H926V996H924V991H918V988H916V985H913V983H912V982H909V978H908V975H907V974H906V979H897V976H893V972H892V955H888V952H877V939H875V938H867V928H866V922H865V918H863V917H862V921H853V901H849V895H847V882H839V875H837V872H836V870H821V860H820V857H818V856H817V851H816V847H812V843H810V851H801V840H794V838H792V824H789V815H788V814H783V810H782V808H777V805H774V795H769V793H761V788H755V783H748V769H746V756H745V754H744V747H743V741H742V740H741V729H740V717H739V710H738V690H737V678H736V699H735V707H734V720H733V733H732V735H729V746H728V764H726V766H717V752H715V756H708V761H707V765H698V758H696V754H688V768H681V777H672V769H666V760H665V763H663V773H661V777H659V784H658V793H650V794H648V796H647V800H644V804H640V809H637V822H631V831H622V824H620V833H619V848H613V853H605V855H603V856H602V867H597V871H593V883H588V888H583V891H582V898H580V901H571V895H565V894H564V897H562V899H561V906H552V902H550V911H541V922H532V916H530V917H528V919H525V924H520V925H517V926H510V934H509V938H501V942H498V950H496V958H493V961H491V969H487V972H486V975H485V976H482V991H481V993H478V1007H473V1009H472V1011H471V1017H470V1020H468V1021H467V1025H466V1028H462V1032H461V1033H459V1036H457V1047H448V1049H447V1053H442V1054H441V1058H439V1060H435V1066H432V1070H423V1069H420V1059H419Z" fill="#085c1a"/>
<path d="M419 844H423V843H427V834H436V835H437V830H441V826H448V824H457V825H459V821H462V815H465V812H468V811H473V801H489V792H498V803H502V802H509V794H515V793H524V796H526V793H528V785H534V767H543V775H544V769H553V771H554V768H555V766H556V763H557V755H567V749H570V744H572V742H575V736H580V711H586V710H587V708H591V702H597V686H598V676H604V669H608V667H614V662H617V658H620V631H628V629H635V627H639V615H643V610H648V605H651V598H657V592H666V594H669V580H676V575H683V568H689V566H706V569H715V577H716V570H725V580H726V566H727V565H728V550H729V537H730V531H731V523H733V522H742V531H743V534H744V539H745V555H746V564H747V576H748V582H749V591H750V595H752V597H753V583H762V589H764V593H765V596H767V603H769V604H775V612H777V616H781V617H784V621H788V629H790V630H791V634H795V640H800V644H803V645H807V646H812V651H813V657H814V660H823V667H830V681H833V686H838V693H839V694H840V689H849V690H854V704H861V710H864V723H867V727H869V731H874V741H882V749H891V762H894V772H895V773H896V778H901V787H903V792H905V793H907V798H914V806H917V812H920V814H922V815H923V808H932V826H937V831H943V834H948V839H952V843H953V848H954V845H963V850H967V847H976V853H981V855H983V858H992V859H998V858H1000V852H1004V847H1013V853H1023V860H1032V861H1034V863H1040V862H1043V861H1044V860H1056V863H1057V860H1058V854H1067V863H1068V852H1077V857H1079V856H1088V859H1094V861H1100V857H1105V855H1114V857H1116V860H1117V861H1118V858H1120V855H1129V860H1132V866H1134V867H1135V864H1144V869H1145V871H1146V867H1155V871H1158V874H1160V870H1173V875H1175V879H1183V878H1192V882H1194V881H1203V886H1206V890H1207V886H1210V884H1219V883H1228V884H1239V889H1243V886H1248V883H1257V890H1258V889H1274V897H1277V893H1286V896H1288V903H1289V901H1299V900H1301V898H1305V892H1309V888H1318V890H1331V877H1340V880H1348V889H1349V883H1358V891H1361V886H1365V884H1374V888H1376V890H1383V892H1384V896H1388V892H1404V897H1406V896H1410V895H1419V901H1421V902H1431V904H1437V902H1446V903H1449V904H1454V906H1456V904H1465V908H1469V911H1472V905H1481V907H1483V909H1490V903H1499V912H1500V911H1509V913H1517V916H1518V914H1527V918H1528V917H1537V919H1539V915H1548V919H1558V927H1565V929H1569V931H1570V933H1571V932H1575V928H1584V931H1589V930H1598V933H1599V935H1603V937H1608V935H1617V936H1621V934H1630V935H1631V942H1634V938H1638V937H1647V941H1654V942H1663V944H1664V939H1673V945H1674V944H1683V945H1685V943H1694V944H1700V948H1706V947H1709V945H1714V944H1723V948H1732V949H1734V947H1743V951H1748V945H1757V949H1760V951H1763V952H1769V951H1779V950H1788V948H1797V949H1801V952H1806V953H1808V954H1813V953H1814V948H1823V950H1832V948H1841V951H1848V955H1862V956H1868V955H1872V952H1881V957H1891V955H1900V958H1902V960H1908V961H1915V959H1925V961H1932V963H1935V961H1943V956H1952V959H1954V960H1959V961H1961V964H1962V963H1971V966H1974V964H1976V963H1977V962H1986V964H1991V965H1993V967H1996V968H1997V969H1998V984H1970V983H1969V981H1968V980H1965V981H1963V982H1954V979H1952V980H1950V981H1945V982H1936V979H1932V982H1918V978H1914V977H1912V979H1909V980H1900V978H1895V977H1889V980H1879V982H1870V975H1869V972H1867V973H1866V975H1864V979H1855V978H1849V975H1847V977H1838V974H1836V973H1832V974H1819V975H1817V978H1808V969H1807V972H1798V971H1796V974H1787V969H1786V971H1775V972H1766V970H1765V971H1760V973H1751V970H1749V968H1748V970H1742V972H1733V970H1731V971H1722V969H1720V967H1716V969H1707V967H1706V969H1692V968H1691V967H1689V965H1688V964H1687V965H1669V963H1661V964H1652V963H1644V962H1642V964H1633V963H1631V961H1629V960H1626V958H1625V965H1616V956H1614V955H1610V960H1601V958H1598V955H1594V953H1592V955H1588V956H1584V957H1575V954H1570V952H1565V950H1561V951H1552V947H1548V945H1545V947H1536V944H1531V941H1523V942H1514V936H1506V940H1497V939H1490V934H1485V935H1476V932H1468V930H1466V934H1457V932H1453V931H1447V930H1443V927H1436V929H1427V927H1425V925H1423V923H1416V922H1410V920H1409V919H1407V916H1406V917H1405V920H1391V919H1390V921H1381V919H1376V916H1368V915H1367V919H1361V920H1352V912H1350V915H1346V917H1337V916H1329V915H1327V910H1326V914H1323V920H1310V923H1307V925H1301V926H1290V932H1281V928H1272V924H1265V921H1261V926H1252V920H1243V918H1238V915H1233V918H1224V913H1215V912H1205V913H1194V912H1188V911H1187V915H1178V904H1167V903H1166V904H1160V905H1151V899H1145V896H1143V898H1134V893H1127V892H1126V883H1124V882H1110V893H1101V886H1095V888H1093V891H1084V888H1081V890H1075V893H1066V891H1063V887H1060V893H1051V886H1047V887H1044V890H1035V889H1026V886H1019V885H1014V883H1010V884H1007V888H998V885H992V887H983V886H979V884H974V885H965V879H959V878H956V879H947V865H941V864H940V866H931V849H929V848H927V847H926V845H925V844H922V843H916V836H909V829H906V824H902V823H898V816H896V814H893V811H889V802H888V794H886V792H883V787H879V782H878V780H877V777H871V776H866V768H863V760H861V757H856V753H851V749H849V745H844V734H843V732H841V729H840V727H832V723H830V721H825V709H823V706H819V704H812V694H808V693H806V684H799V687H790V669H784V660H777V652H776V659H767V658H763V645H759V635H754V623H751V618H749V614H746V613H745V609H742V607H741V602H740V589H739V578H738V569H737V565H736V574H735V584H734V589H733V601H732V604H725V615H716V610H714V611H705V610H698V609H697V617H693V618H689V622H673V619H672V629H669V630H667V638H658V641H656V642H655V652H647V663H645V666H643V667H641V669H639V677H632V689H624V692H623V695H616V709H614V710H609V723H604V734H600V742H593V746H590V747H588V755H586V757H585V759H584V764H582V772H578V774H577V777H575V787H569V789H568V791H563V801H555V803H553V807H551V809H548V815H542V817H537V832H528V822H527V827H518V825H516V834H514V835H504V836H495V833H490V832H481V834H476V846H473V847H472V849H468V851H462V852H459V855H454V857H453V862H444V858H442V861H441V864H440V868H439V869H438V871H429V870H428V878H419Z" fill="#780000"/>
<path d="M419 749H428V751H430V752H433V751H435V749H436V744H440V741H449V745H452V747H454V738H463V745H465V742H467V736H475V730H484V732H487V733H488V731H491V730H500V726H504V724H507V721H508V717H521V714H530V715H531V711H538V704H547V707H548V702H551V699H554V695H557V694H562V691H565V687H567V678H570V671H572V667H573V666H578V660H580V652H583V643H586V636H589V633H594V624H596V613H598V610H600V609H606V607H607V589H611V578H613V577H615V575H617V574H618V565H620V554H626V535H632V529H635V524H636V520H638V519H639V515H640V506H641V498H649V490H650V489H652V482H655V468H659V467H661V463H664V456H669V450H677V436H686V441H689V444H692V447H697V431H706V437H712V438H714V431H723V438H732V441H738V447H742V454H747V466H752V468H755V475H758V482H760V481H769V488H770V486H779V493H783V498H787V492H796V509H797V512H800V518H801V519H808V520H813V526H820V537H822V538H825V545H828V548H832V558H835V562H838V564H842V568H843V564H852V572H853V573H856V583H857V586H858V593H859V599H860V600H865V601H866V606H869V607H873V616H875V619H883V624H886V626H888V634H891V635H892V637H895V640H900V653H901V657H903V658H905V663H913V668H920V672H921V683H924V686H926V687H931V694H933V697H935V701H940V706H941V707H945V708H947V711H953V708H962V715H966V716H967V719H970V718H979V721H985V726H989V727H1001V720H1010V726H1015V727H1017V728H1018V724H1027V730H1029V731H1030V728H1039V731H1040V733H1045V723H1054V732H1056V729H1058V728H1073V727H1082V728H1099V730H1100V729H1109V730H1110V732H1113V733H1116V732H1118V731H1121V730H1130V733H1139V736H1148V742H1152V741H1161V743H1170V748H1172V749H1176V745H1185V748H1186V750H1189V751H1198V752H1203V756H1207V755H1211V752H1220V756H1222V750H1231V752H1233V755H1237V760H1241V758H1250V759H1259V753H1268V760H1274V765H1277V767H1292V768H1294V767H1296V766H1305V767H1306V764H1314V763H1315V757H1324V759H1326V757H1335V762H1337V765H1338V759H1351V761H1358V760H1367V765H1376V768H1388V769H1389V771H1394V770H1399V769H1404V764H1413V769H1414V772H1416V773H1423V776H1425V775H1430V772H1437V771H1446V770H1455V776H1458V773H1468V775H1471V779H1478V777H1479V776H1488V779H1492V773H1501V778H1504V771H1513V780H1518V781H1531V787H1538V794H1540V795H1546V785H1555V795H1560V796H1568V799H1584V801H1588V803H1591V801H1600V804H1602V801H1611V806H1614V807H1628V808H1634V802H1643V808H1645V811H1651V815H1654V804H1663V810H1671V815H1672V814H1681V817H1686V818H1691V813H1700V816H1701V818H1704V820H1710V821H1711V819H1720V822H1721V823H1723V824H1724V821H1740V822H1754V821H1763V824H1768V826H1770V827H1774V828H1780V827H1789V828H1790V829H1793V831H1796V827H1805V829H1811V832H1813V833H1815V832H1819V829H1828V834H1832V835H1834V833H1843V834H1845V831H1854V832H1857V837H1859V834H1866V832H1871V830H1880V838H1882V835H1883V833H1884V832H1893V835H1902V836H1920V832H1929V836H1933V837H1938V832H1947V836H1951V837H1957V832H1966V833H1967V837H1974V838H1979V839H1982V838H1989V837H1998V849H1997V854H1995V861H1986V858H1980V856H1975V857H1966V856H1962V855H1961V856H1959V859H1950V858H1947V854H1945V858H1940V859H1931V855H1927V854H1925V855H1914V856H1905V855H1896V854H1895V858H1885V855H1884V856H1881V858H1872V854H1867V856H1858V854H1852V853H1849V852H1841V855H1832V854H1826V853H1824V851H1813V850H1806V849H1804V852H1788V849H1785V847H1784V849H1775V848H1767V845H1766V848H1757V847H1750V849H1741V848H1736V843H1731V842H1722V841H1720V840H1714V841H1708V842H1699V839H1696V842H1687V838H1681V840H1678V845H1669V837H1663V836H1654V833H1647V834H1638V831H1637V832H1634V833H1625V830H1623V829H1619V831H1610V830H1603V828H1594V825H1590V822H1585V823H1582V826H1573V824H1565V821H1562V820H1558V819H1553V820H1544V819H1536V811H1527V809H1524V806H1521V808H1512V806H1510V802H1508V804H1504V806H1495V803H1494V800H1489V799H1484V801H1482V802H1476V803H1467V797H1464V798H1462V801H1450V803H1441V801H1436V797H1434V799H1425V798H1418V797H1411V798H1402V794H1395V796H1393V797H1384V788H1383V789H1382V791H1379V793H1370V792H1366V789H1363V787H1362V785H1361V786H1354V790H1345V787H1340V786H1339V787H1330V788H1326V789H1317V786H1316V787H1312V788H1309V790H1306V791H1297V793H1295V797H1278V792H1272V790H1269V789H1265V788H1258V787H1255V785H1254V795H1245V787H1241V788H1232V782H1221V785H1212V782H1209V787H1200V780H1199V779H1198V778H1190V777H1188V776H1183V783H1182V788H1173V778H1168V775H1162V779H1153V771H1147V763H1145V768H1136V764H1135V763H1134V760H1131V765H1122V759H1117V756H1111V755H1110V759H1105V761H1096V759H1092V756H1081V758H1080V767H1071V763H1066V757H1065V752H1064V753H1063V755H1054V753H1052V754H1049V760H1041V761H1032V755H1031V760H1026V764H1017V757H1016V752H1007V751H1006V754H1005V756H1001V758H987V754H985V761H976V752H973V750H969V747H963V746H954V745H953V741H952V763H943V736H932V733H930V730H929V728H924V722H919V714H916V711H913V702H906V697H905V694H902V690H901V692H892V679H888V667H880V658H873V651H870V645H867V640H865V636H861V634H859V630H857V625H849V613H845V609H844V606H843V605H842V609H833V594H832V590H830V588H826V587H821V580H812V570H807V557H803V553H798V551H797V547H796V545H795V542H794V538H793V542H784V539H779V536H778V530H775V527H766V519H765V514H764V515H761V516H750V515H739V494H732V483H730V482H726V485H722V492H713V490H712V493H703V491H701V488H694V486H685V482H684V486H681V494H677V496H674V500H670V519H663V526H655V534H648V535H647V539H646V545H645V550H642V555H640V557H639V562H637V571H634V576H633V579H632V596H630V597H626V603H623V613H621V623H615V626H613V627H612V634H608V637H607V638H606V652H604V662H597V665H595V669H593V670H592V672H591V679H590V684H586V686H583V687H582V690H580V693H579V694H578V695H577V704H574V711H573V715H571V723H568V728H564V730H555V728H553V729H552V735H548V739H541V740H540V742H534V744H529V746H527V747H523V748H516V749H515V751H512V753H507V765H498V755H494V757H490V758H488V760H483V766H474V762H473V767H471V774H462V772H458V776H449V773H442V770H434V771H433V773H432V777H423V774H422V771H419Z" fill="#ee6611"/>
<path d="M419 555H421V554H424V548H428V537H438V530H447V538H450V530H454V528H464V526H466V518H468V514H472V511H476V496H483V492H486V491H489V487H492V484H495V480H498V479H499V472H500V469H505V464H506V461H509V460H512V455H514V453H519V445H527V442H534V437H541V433H545V429H546V427H547V422H549V417H558V418H560V413H569V416H571V413H575V410H580V405H581V403H583V395H586V388H591V380H592V378H601V373H606V367H612V361H613V352H617V345H619V342H624V339H629V323H630V319H633V318H639V317H640V311H642V306H646V301H648V294H653V289H655V271H664V274H665V266H669V251H678V255H681V247H688V235H691V234H700V244H701V227H710V245H711V250H716V249H730V252H732V258H733V257H736V253H745V262H747V265H749V269H751V272H756V263H765V276H767V277H768V278H773V279H775V272H784V293H785V296H786V302H787V300H796V317H802V316H811V328H818V333H820V336H829V345H835V357H840V369H841V372H844V379H846V380H851V382H860V384H862V392H863V397H869V401H875V413H879V424H880V426H882V431H887V435H889V442H894V448H898V451H899V452H908V467H910V468H911V474H913V481H922V486H924V490H925V492H926V493H928V491H937V507H942V508H944V511H945V506H956V514H964V515H965V516H969V522H978V526H982V530H983V526H992V533H996V525H1010V531H1013V532H1016V530H1026V539H1028V535H1037V538H1041V536H1048V530H1057V539H1059V527H1068V534H1071V536H1076V537H1081V539H1083V540H1084V537H1092V536H1098V535H1107V536H1109V535H1111V533H1118V531H1127V538H1132V540H1140V541H1142V540H1152V543H1156V546H1157V548H1161V550H1164V551H1166V552H1170V548H1179V551H1181V553H1187V557H1191V556H1202V560H1205V555H1211V553H1220V555H1225V559H1230V561H1232V563H1237V568H1246V565H1255V568H1257V569H1260V571H1262V568H1263V565H1272V571H1276V568H1288V570H1291V574H1293V575H1297V573H1298V572H1307V568H1313V566H1322V569H1323V565H1332V559H1341V562H1343V555H1352V558H1354V561H1359V557H1368V561H1369V564H1373V561H1382V560H1391V566H1394V568H1398V570H1404V565H1415V569H1418V565H1425V562H1434V571H1435V572H1452V577H1459V575H1468V578H1471V579H1472V580H1473V576H1476V575H1485V576H1490V578H1493V580H1494V579H1503V584H1504V586H1505V581H1514V583H1515V585H1522V587H1525V589H1528V588H1532V586H1541V589H1547V593H1548V596H1549V593H1558V594H1559V597H1570V601H1571V600H1578V599H1587V601H1593V603H1597V599H1606V605H1609V602H1618V603H1620V612H1626V609H1633V607H1642V609H1644V611H1652V612H1656V613H1689V614H1695V617H1704V620H1712V622H1721V623H1723V625H1727V620H1736V627H1746V629H1747V627H1756V629H1757V631H1774V632H1778V633H1779V635H1782V634H1788V632H1797V633H1806V636H1810V634H1816V633H1825V634H1826V627H1835V632H1847V628H1856V629H1860V634H1862V635H1863V634H1872V637H1876V636H1884V635H1893V638H1896V639H1902V638H1911V639H1913V640H1915V639H1919V638H1930V640H1936V643H1937V641H1938V640H1942V637H1951V641H1963V642H1964V637H1973V642H1988V640H1997V651H1998V661H1994V663H1991V664H1975V663H1968V660H1967V659H1965V658H1960V660H1948V659H1939V660H1923V659H1914V660H1905V659H1904V656H1903V657H1902V660H1893V659H1882V658H1881V655H1877V656H1876V657H1867V656H1862V655H1851V654H1847V655H1835V654H1817V655H1816V658H1807V655H1803V654H1802V653H1798V655H1789V652H1788V653H1765V651H1761V652H1752V648H1749V650H1742V651H1733V650H1731V645H1719V644H1717V645H1713V647H1704V643H1702V640H1695V639H1692V641H1683V639H1674V642H1672V643H1663V634H1662V635H1658V636H1651V639H1642V631H1640V632H1639V633H1634V634H1625V632H1624V634H1622V636H1613V629H1612V632H1603V630H1592V629H1583V625H1575V628H1566V626H1565V624H1561V623H1556V620H1554V617H1552V615H1551V618H1542V617H1538V614H1536V619H1527V616H1526V613H1517V611H1506V608H1502V605H1499V610H1490V601H1486V600H1483V607H1476V608H1467V603H1454V600H1452V599H1446V597H1445V595H1438V594H1437V593H1433V598H1424V596H1420V595H1414V593H1413V591H1411V601H1402V596H1394V590H1390V595H1381V592H1380V597H1371V592H1369V587H1362V591H1353V588H1348V586H1347V594H1338V592H1335V590H1329V593H1320V592H1319V594H1304V604H1295V601H1289V603H1280V600H1277V597H1276V601H1271V605H1262V594H1259V593H1258V599H1249V590H1242V594H1233V592H1225V591H1219V586H1217V589H1208V585H1206V581H1205V586H1196V582H1189V581H1185V579H1181V576H1174V575H1156V574H1144V571H1142V574H1133V569H1125V565H1121V564H1120V565H1111V563H1108V561H1106V562H1102V570H1093V562H1092V563H1091V568H1083V569H1074V572H1065V568H1060V567H1052V565H1046V566H1037V563H1036V562H1029V570H1020V560H1015V566H1006V564H1004V559H1000V562H991V558H988V557H987V560H978V558H972V553H967V552H964V549H960V547H959V545H954V543H949V540H937V533H932V530H930V527H928V525H927V521H924V518H919V512H916V517H907V497H905V493H896V489H895V485H892V482H891V480H890V475H889V473H887V472H883V471H876V457H874V448H871V446H867V431H862V425H856V419H855V417H854V418H845V413H843V409H836V397H830V393H824V392H823V391H822V386H814V372H810V367H803V356H801V360H792V350H791V347H787V344H781V335H773V318H772V317H771V315H769V314H763V313H761V328H752V310H744V294H736V288H729V304H720V297H716V293H712V288H711V289H702V280H700V279H699V287H694V301H685V300H672V301H670V317H665V321H662V336H653V331H652V342H647V351H641V359H634V362H632V366H631V372H629V381H628V388H620V390H618V393H616V405H609V408H607V420H601V421H594V423H592V425H591V427H590V435H586V438H582V442H576V445H572V453H567V459H563V461H559V467H550V466H547V464H546V467H540V469H539V473H533V478H530V480H527V482H525V488H518V490H517V497H513V499H509V501H506V505H500V510H499V512H494V522H491V525H489V529H488V532H484V537H482V538H477V543H475V547H472V551H470V552H464V554H461V560H456V561H453V563H444V561H443V571H434V569H433V574H432V580H423V575H422V574H419Z" fill="#6814d6"/>
</g>
<path d="M375 106H2045M375 1676H2045M423.3 106V1679.7M1997.6 58.5V1723.5M587.0 58.5V106M587.0 1676V1723.5M822.1 58.5V106M822.1 1676V1723.5M1057.2 58.5V106M1057.2 1676V1723.5M1292.3 58.5V106M1292.3 1676V1723.5M1527.4 58.5V106M1527.4 1676V1723.5M1762.5 58.5V106M1762.5 1676V1723.5M375 1414.3H423.3M1997.6 1414.3H2045M375 1152.7H423.3M1997.6 1152.7H2045M375 891.0H423.3M1997.6 891.0H2045M375 629.3H423.3M1997.6 629.3H2045M375 367.7H423.3M1997.6 367.7H2045" stroke="#000" stroke-width="7.5" fill="none" stroke-linecap="butt"/>
<text transform="matrix(0.9720 0.0000 0.0000 1.0140 312.75 1694.88)" font-family="Liberation Sans, Arial, sans-serif" font-weight="bold" font-size="80" fill="#000">0</text>
<text transform="matrix(0.9720 0.0000 0.0000 1.0140 182.50 1433.22)" font-family="Liberation Sans, Arial, sans-serif" font-weight="bold" font-size="80" fill="#000">1000</text>
<text transform="matrix(0.9720 0.0000 0.0000 1.0140 182.50 1171.55)" font-family="Liberation Sans, Arial, sans-serif" font-weight="bold" font-size="80" fill="#000">2000</text>
<text transform="matrix(0.9720 0.0000 0.0000 1.0140 182.50 909.88)" font-family="Liberation Sans, Arial, sans-serif" font-weight="bold" font-size="80" fill="#000">3000</text>
<text transform="matrix(0.9720 0.0000 0.0000 1.0140 182.50 648.22)" font-family="Liberation Sans, Arial, sans-serif" font-weight="bold" font-size="80" fill="#000">4000</text>
<text transform="matrix(0.9720 0.0000 0.0000 1.0140 182.50 386.55)" font-family="Liberation Sans, Arial, sans-serif" font-weight="bold" font-size="80" fill="#000">5000</text>
<text transform="matrix(0.9720 0.0000 0.0000 1.0140 182.50 124.88)" font-family="Liberation Sans, Arial, sans-serif" font-weight="bold" font-size="80" fill="#000">6000</text>
<text transform="matrix(0.9720 0.0000 0.0000 1.0140 542.37 1793.08)" font-family="Liberation Sans, Arial, sans-serif" font-weight="bold" font-size="80" fill="#000">10</text>
<text transform="matrix(0.9720 0.0000 0.0000 1.0140 778.45 1793.08)" font-family="Liberation Sans, Arial, sans-serif" font-weight="bold" font-size="80" fill="#000">20</text>
<text transform="matrix(0.9720 0.0000 0.0000 1.0140 1014.03 1793.08)" font-family="Liberation Sans, Arial, sans-serif" font-weight="bold" font-size="80" fill="#000">30</text>
<text transform="matrix(0.9720 0.0000 0.0000 1.0140 1249.62 1793.08)" font-family="Liberation Sans, Arial, sans-serif" font-weight="bold" font-size="80" fill="#000">40</text>
<text transform="matrix(0.9720 0.0000 0.0000 1.0140 1483.75 1793.08)" font-family="Liberation Sans, Arial, sans-serif" font-weight="bold" font-size="80" fill="#000">50</text>
<text transform="matrix(0.9720 0.0000 0.0000 1.0140 1718.85 1793.08)" font-family="Liberation Sans, Arial, sans-serif" font-weight="bold" font-size="80" fill="#000">60</text>
<text transform="matrix(0.9720 0.0000 0.0000 1.0140 1953.95 1793.08)" font-family="Liberation Sans, Arial, sans-serif" font-weight="bold" font-size="80" fill="#000">70</text>
<text transform="matrix(0.9938 0.0000 0.0000 1.0000 902.12 1910.80)" font-family="Liberation Sans, Arial, sans-serif" font-weight="bold" font-size="88" fill="#000">2theta / degree</text>
<text transform="matrix(0.0000 -0.9917 1.0000 0.0000 116.00 1193.65)" font-family="Liberation Sans, Arial, sans-serif" font-weight="bold" font-size="88" fill="#000">Intensity / a . u</text>
<text transform="matrix(0.9738 0.0000 0.0000 1.0100 1568.30 577.00)" font-family="Liberation Sans, Arial, sans-serif" font-weight="bold" font-size="62" fill="#6814d6">PLA/BA/DCP/J</text>
<text transform="matrix(0.9774 0.0000 0.0000 1.0100 1699.09 794.30)" font-family="Liberation Sans, Arial, sans-serif" font-weight="bold" font-size="62" fill="#ee6611">PLA/BA/J</text>
<text transform="matrix(0.9727 0.0000 0.0000 1.0100 1625.41 920.90)" font-family="Liberation Sans, Arial, sans-serif" font-weight="bold" font-size="62" fill="#780000">PLA/BA/DCP</text>
<text transform="matrix(0.9822 0.0000 0.0000 1.0100 1761.07 1078.40)" font-family="Liberation Sans, Arial, sans-serif" font-weight="bold" font-size="62" fill="#085c1a">PLA/BA</text>
<text transform="matrix(0.9804 0.0000 0.0000 1.0100 1660.08 1257.00)" font-family="Liberation Sans, Arial, sans-serif" font-weight="bold" font-size="62" fill="#00c8ff">PLA/DCP/J</text>
<text transform="matrix(0.9643 0.0000 0.0000 1.0100 1809.14 1401.30)" font-family="Liberation Sans, Arial, sans-serif" font-weight="bold" font-size="62" fill="#ee0a88">PLA/J</text>
<text transform="matrix(0.9714 0.0000 0.0000 1.0100 1704.71 1506.00)" font-family="Liberation Sans, Arial, sans-serif" font-weight="bold" font-size="62" fill="#0000d0">PLA/DCP</text>
<text transform="matrix(0.9919 0.0000 0.0000 1.0100 584.03 1405.50)" font-family="Liberation Sans, Arial, sans-serif" font-weight="bold" font-size="62" fill="#000000">Neat PLA</text>
<text transform="matrix(0.9821 0.0000 0.0000 1.0100 860.87 1587.50)" font-family="Liberation Sans, Arial, sans-serif" font-weight="bold" font-size="62" fill="#dc0505">BA</text>
</svg>
</body></html>
